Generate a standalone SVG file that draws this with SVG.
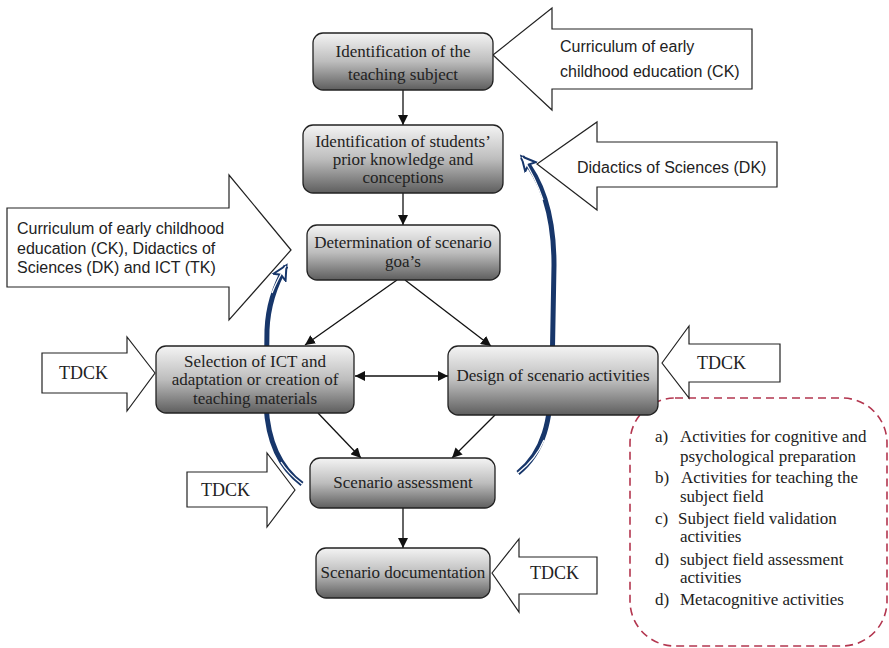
<svg xmlns="http://www.w3.org/2000/svg" width="889" height="648" viewBox="0 0 889 648">
<defs>
<linearGradient id="g" x1="0" y1="0" x2="0" y2="1">
<stop offset="0" stop-color="#f4f4f4"/>
<stop offset="0.5" stop-color="#bdbdbd"/>
<stop offset="1" stop-color="#5e5e5e"/>
</linearGradient>
<marker id="ah" markerWidth="12" markerHeight="10" refX="10" refY="5" orient="auto" markerUnits="userSpaceOnUse">
<path d="M0,0 L10,5 L0,10 z" fill="#111"/>
</marker>
<marker id="ahs" markerWidth="12" markerHeight="10" refX="0" refY="5" orient="auto" markerUnits="userSpaceOnUse">
<path d="M10,0 L0,5 L10,10 z" fill="#111"/>
</marker>
<marker id="bh" markerWidth="20" markerHeight="20" refX="14" refY="10" orient="auto" markerUnits="userSpaceOnUse">
<path d="M1,3 L15,10 L1,17 L4,10 z" fill="#fff" stroke="#17366a" stroke-width="2"/>
</marker>
</defs>
<style>
.node rect{fill:url(#g);stroke:#222;stroke-width:1.3}
.node text{font-family:"Liberation Serif","Times New Roman",serif;font-size:17px;fill:#222;text-anchor:middle}
.big{fill:#fff;stroke:#222;stroke-width:1.2}
.sans{font-family:"Liberation Sans",Arial,sans-serif;font-size:16px;fill:#222}
.tdck{font-family:"Liberation Serif","Times New Roman",serif;font-size:18px;fill:#222}
.list{font-family:"Liberation Serif","Times New Roman",serif;font-size:17px;fill:#222}
.conn line{stroke:#111;stroke-width:1.3}
.blue{fill:none;stroke:#17366a;stroke-width:5}
.bluein{fill:none;stroke:#fff;stroke-width:1.3}
</style>
<rect width="889" height="648" fill="#fff"/>

<g id="notes">
<rect x="630" y="398" width="257" height="248" rx="45" fill="none" stroke="#b3364f" stroke-width="1.6" stroke-dasharray="8,5"/>
<text class="list" x="655" y="442">a)</text><text class="list" x="680" y="442">Activities for cognitive and</text>
<text class="list" x="680" y="462">psychological preparation</text>
<text class="list" x="655" y="483">b)</text><text class="list" x="681" y="483">Activities for teaching the</text>
<text class="list" x="680" y="502">subject field</text>
<text class="list" x="655" y="524">c)</text><text class="list" x="678" y="524">Subject field validation</text>
<text class="list" x="680" y="542">activities</text>
<text class="list" x="655" y="565">d)</text><text class="list" x="680" y="565">subject field assessment</text>
<text class="list" x="680" y="583">activities</text>
<text class="list" x="655" y="605">d)</text><text class="list" x="680" y="605">Metacognitive activities</text>
</g>

<g id="blue-arrows">
<path class="blue" d="M518,473 C544,452 551,420 552,375 L554,265 C554,215 542,180 522,157" marker-end="url(#bh)"/>
<path class="bluein" d="M518,473 C532,462 540,450 544,440"/>
<path class="bluein" d="M543,200 C538,185 532,172 522,157"/>
<path class="blue" d="M302,484 C283,470 268,445 266,405 L267,330 C268,305 275,285 286,266" marker-end="url(#bh)"/>
<path class="bluein" d="M302,484 C293,477 286,470 281,462"/>
<path class="bluein" d="M272,293 C276,283 280,275 286,266"/>
</g>

<g id="input-arrows">
<g id="in-ck">
<polygon class="big" points="493,55 552,8 552,29 752,29 752,89 552,89 552,110"/>
<text class="sans" x="560" y="52">Curriculum of early</text>
<text class="sans" x="560" y="77">childhood education (CK)</text>
</g>
<g id="in-dk">
<polygon class="big" points="537,164 597,122 597,142 777,142 777,187 597,187 597,210"/>
<text class="sans" x="577" y="173">Didactics of Sciences (DK)</text>
</g>
<g id="in-all">
<polygon class="big" points="291,250 229,175 229,208 7,208 7,287 229,287 229,320"/>
<text class="sans" x="17" y="234">Curriculum of early childhood</text>
<text class="sans" x="17" y="254">education (CK), Didactics of</text>
<text class="sans" x="17" y="273">Sciences (DK) and ICT (TK)</text>
</g>
<g id="in-tdck1">
<polygon class="big" points="155,373 127,337 127,353 42,353 42,393 127,393 127,411"/>
<text class="tdck" x="59" y="379">TDCK</text>
</g>
<g id="in-tdck2">
<polygon class="big" points="662,363 689,326 689,344 780,344 780,382 689,382 689,398"/>
<text class="tdck" x="697" y="369">TDCK</text>
</g>
<g id="in-tdck3">
<polygon class="big" points="295,490 267,453 267,472 187,472 187,507 267,507 267,527"/>
<text class="tdck" x="201" y="496">TDCK</text>
</g>
<g id="in-tdck4">
<polygon class="big" points="492,573 519,539 519,557 597,557 597,594 519,594 519,612"/>
<text class="tdck" x="530" y="579">TDCK</text>
</g>
</g>

<g id="connectors" class="conn">
<line x1="403" y1="90" x2="403" y2="125" marker-end="url(#ah)"/>
<line x1="403" y1="193" x2="403" y2="225" marker-end="url(#ah)"/>
<line x1="397" y1="280" x2="305" y2="345" marker-end="url(#ah)"/>
<line x1="405" y1="280" x2="491" y2="346" marker-end="url(#ah)"/>
<line x1="355" y1="376" x2="448" y2="376" marker-start="url(#ahs)" marker-end="url(#ah)"/>
<line x1="318" y1="413" x2="361" y2="458" marker-end="url(#ah)"/>
<line x1="495" y1="415" x2="452" y2="458" marker-end="url(#ah)"/>
<line x1="403" y1="508" x2="403" y2="548" marker-end="url(#ah)"/>
</g>

<g id="n1" class="node">
<rect x="313" y="33" width="180" height="57" rx="10"/>
<text x="403" y="57">Identification of the</text>
<text x="403" y="80">teaching subject</text>
</g>
<g id="n2" class="node">
<rect x="303" y="125" width="200" height="68" rx="10"/>
<text x="403" y="147">Identification of students’</text>
<text x="403" y="165">prior knowledge and</text>
<text x="403" y="183">conceptions</text>
</g>
<g id="n3" class="node">
<rect x="307" y="225" width="193" height="55" rx="10"/>
<text x="403" y="248">Determination of scenario</text>
<text x="403" y="267">goa’s</text>
</g>
<g id="n4" class="node">
<rect x="156" y="346" width="198" height="67" rx="10"/>
<text x="255" y="367">Selection of ICT and</text>
<text x="255" y="385">adaptation or creation of</text>
<text x="255" y="404">teaching materials</text>
</g>
<g id="n5" class="node">
<rect x="448" y="346" width="210" height="69" rx="10"/>
<text x="553" y="381">Design of scenario activities</text>
</g>
<g id="n6" class="node">
<rect x="310" y="458" width="185" height="50" rx="10"/>
<text x="403" y="488">Scenario assessment</text>
</g>
<g id="n7" class="node">
<rect x="316" y="548" width="174" height="50" rx="10"/>
<text x="403" y="578">Scenario documentation</text>
</g>
</svg>
